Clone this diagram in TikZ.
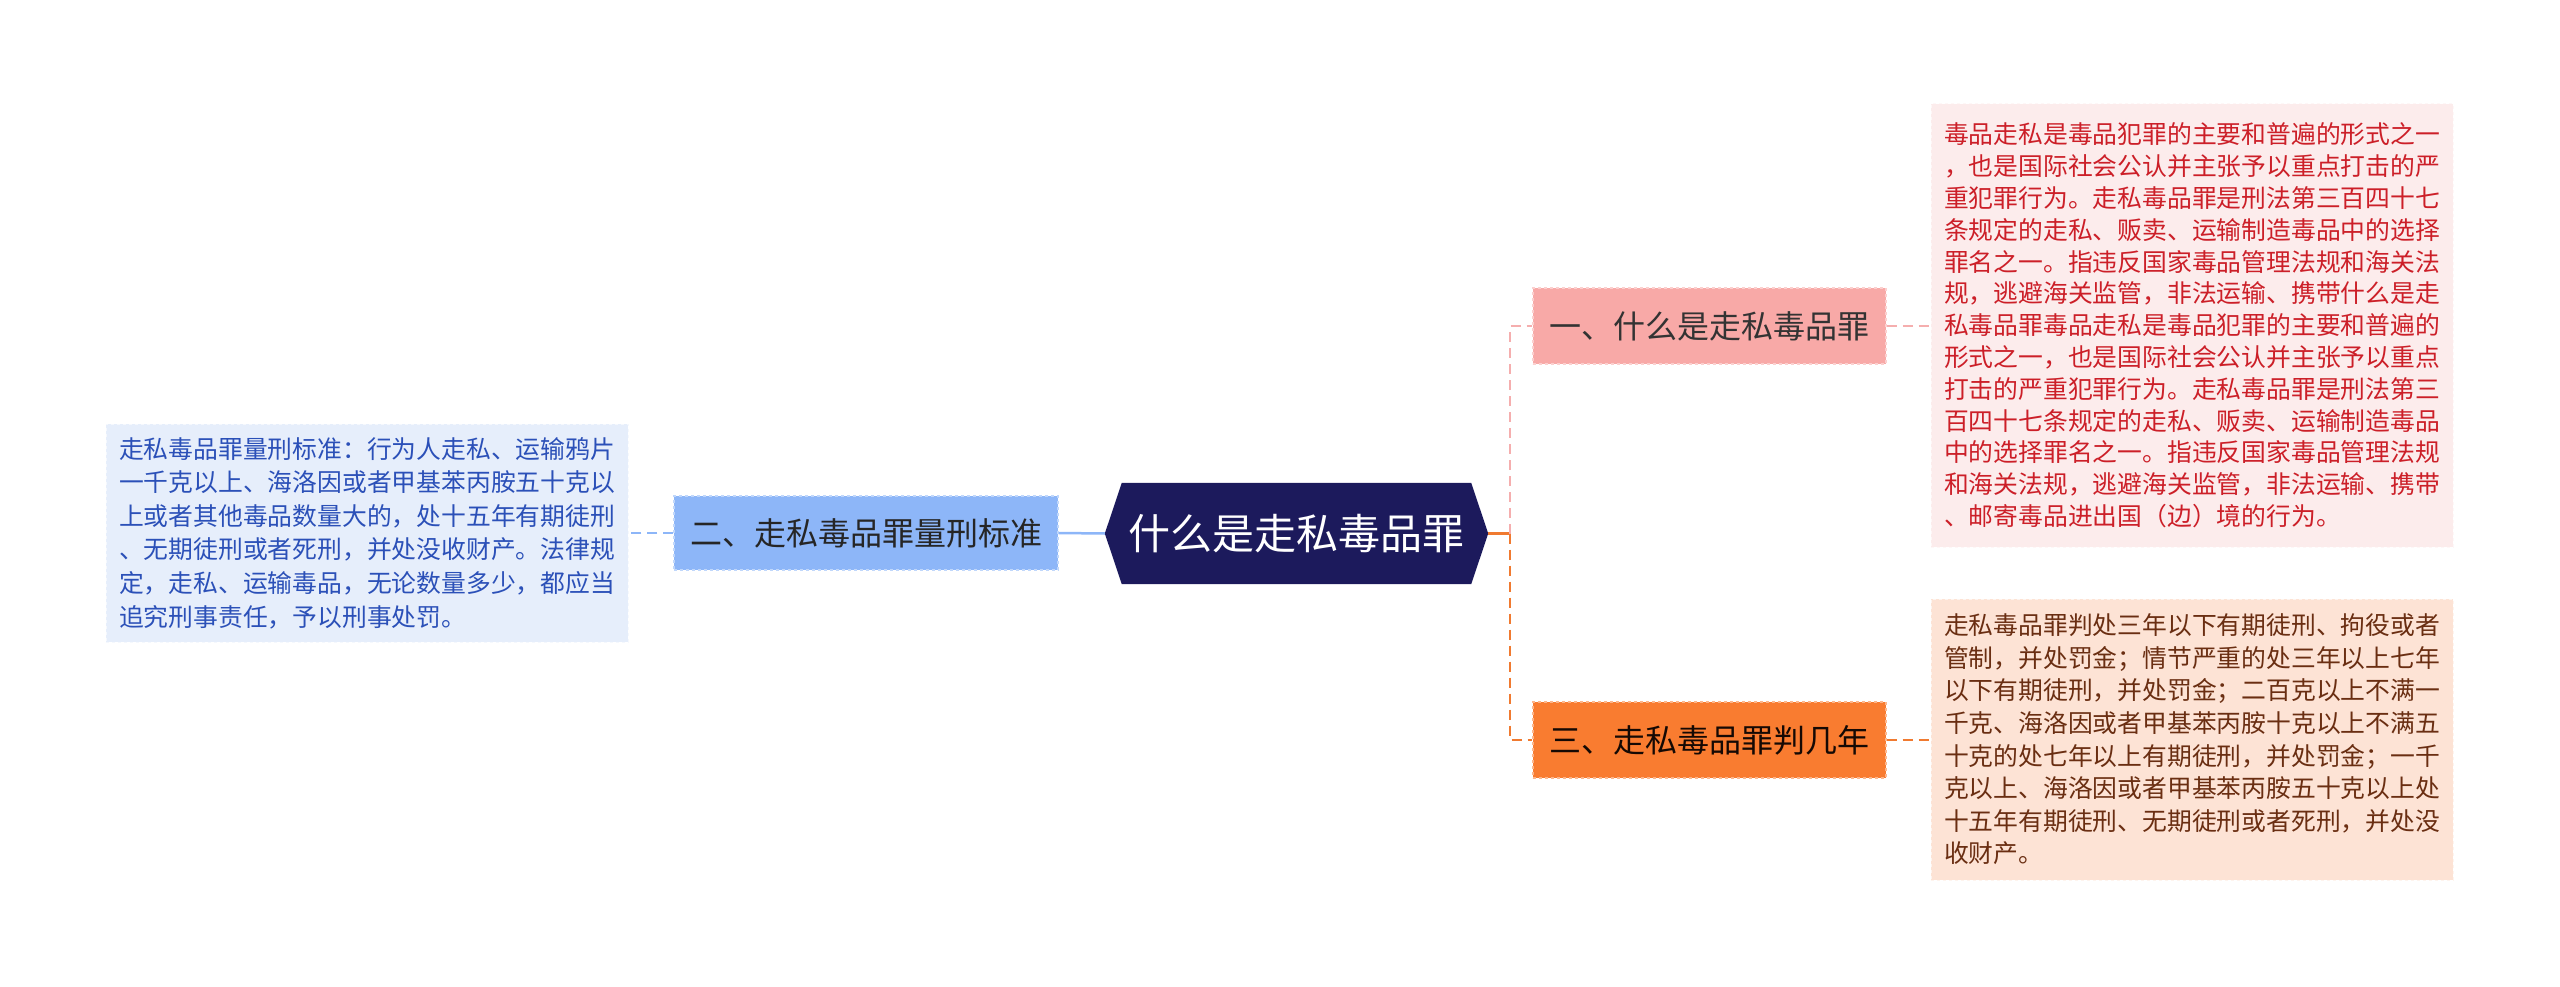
\documentclass[tikz,border=0pt]{standalone}
\usepackage{fontspec}
\usepackage{xcolor}
\usepackage{tikz}
\usetikzlibrary{backgrounds}
\setmainfont{Noto Sans CJK SC}

\definecolor{rootfill}{HTML}{1C1A5C}
\definecolor{bluefill}{HTML}{8DB6F8}
\definecolor{bluedesc}{HTML}{E6EEFB}
\definecolor{bluetext}{HTML}{2B50B8}
\definecolor{pinkfill}{HTML}{F8A9A7}
\definecolor{pinkdesc}{HTML}{FCECEC}
\definecolor{pinktext}{HTML}{CC1F28}
\definecolor{pinkline}{HTML}{F5AEAE}
\definecolor{orangefill}{HTML}{F97C30}
\definecolor{orangedesc}{HTML}{FDE3D5}
\definecolor{orangetext}{HTML}{6A2E12}
\definecolor{orangeline}{HTML}{F07A30}

\tikzset{
  topic/.style={rectangle, fill=#1, draw=#1!55!white, dashed, line width=1.2pt,
    inner sep=0pt, minimum width=353pt, minimum height=76pt,
    font=\fontsize{32}{38}\selectfont},
  desc/.style={rectangle, fill=#1, draw=#1!40!white, dashed, line width=1pt,
    inner sep=0pt, minimum width=522pt, align=left},
  link/.style={line width=2.5pt, draw=#1},
  dashlink/.style={line width=2.5pt, draw=#1, dash pattern=on 10pt off 6pt}
}

\begin{document}
\begin{tikzpicture}[x=1pt,y=-1pt]
\useasboundingbox (0,0) rectangle (2560,987);

% centre
\node[inner sep=0pt, minimum width=349pt, minimum height=101pt, text=white,
  font=\fontsize{42}{50}\selectfont] (root) at (1296.5,533.5) {什么是走私毒品罪};
\begin{scope}[on background layer]
\fill[rootfill] (root.north west) -- (root.north east) -- ([xshift=17pt]root.east)
  -- (root.south east) -- (root.south west) -- ([xshift=-17pt]root.west) -- cycle;
\end{scope}

% branches
\node[topic=pinkfill, text=black!80] (one) at (1709.5,326) {一、什么是走私毒品罪};
\node[topic=bluefill, minimum width=384pt, minimum height=74pt, text=black!85] (two) at (866,533) {二、走私毒品罪量刑标准};
\node[topic=orangefill, text=black!80!orangetext] (three) at (1709.5,740) {三、走私毒品罪判几年};

% descriptions
\node[desc=pinkdesc, minimum height=443pt, text=pinktext,
  font=\fontsize{24.8}{31.8}\selectfont] (oneText) at (2192,325.5) {毒品走私是毒品犯罪的主要和普遍的形式之一\\
，也是国际社会公认并主张予以重点打击的严\\
重犯罪行为。走私毒品罪是刑法第三百四十七\\
条规定的走私、贩卖、运输制造毒品中的选择\\
罪名之一。指违反国家毒品管理法规和海关法\\
规，逃避海关监管，非法运输、携带什么是走\\
私毒品罪毒品走私是毒品犯罪的主要和普遍的\\
形式之一，也是国际社会公认并主张予以重点\\
打击的严重犯罪行为。走私毒品罪是刑法第三\\
百四十七条规定的走私、贩卖、运输制造毒品\\
中的选择罪名之一。指违反国家毒品管理法规\\
和海关法规，逃避海关监管，非法运输、携带\\
、邮寄毒品进出国（边）境的行为。};

\node[desc=bluedesc, minimum height=218pt, text=bluetext,
  font=\fontsize{24.8}{33.6}\selectfont] (twoText) at (367,533) {走私毒品罪量刑标准：行为人走私、运输鸦片\\
一千克以上、海洛因或者甲基苯丙胺五十克以\\
上或者其他毒品数量大的，处十五年有期徒刑\\
、无期徒刑或者死刑，并处没收财产。法律规\\
定，走私、运输毒品，无论数量多少，都应当\\
追究刑事责任，予以刑事处罚。};

\node[desc=orangedesc, minimum height=281pt, text=orangetext,
  font=\fontsize{24.8}{32.6}\selectfont] (threeText) at (2192,739.5) {走私毒品罪判处三年以下有期徒刑、拘役或者\\
管制，并处罚金；情节严重的处三年以上七年\\
以下有期徒刑，并处罚金；二百克以上不满一\\
千克、海洛因或者甲基苯丙胺十克以上不满五\\
十克的处七年以上有期徒刑，并处罚金；一千\\
克以上、海洛因或者甲基苯丙胺五十克以上处\\
十五年有期徒刑、无期徒刑或者死刑，并处没\\
收财产。};

% connectors
\coordinate (fork) at ([xshift=39pt]root.east);
\draw[link=orangeline] ([xshift=17pt]root.east) -- (fork);
\draw[dashlink=pinkline] (fork) |- (one.west);
\draw[dashlink=orangeline] (fork) |- (three.west);
\draw[link=bluefill] ([xshift=-17pt]root.west) -- (two.east);
\draw[dashlink=bluefill] (two.west) -- (twoText.east);
\draw[dashlink=pinkline] (one.east) -- (one.east -| oneText.west);
\draw[dashlink=orangeline] (three.east) -- (three.east -| threeText.west);
\end{tikzpicture}
\end{document}
